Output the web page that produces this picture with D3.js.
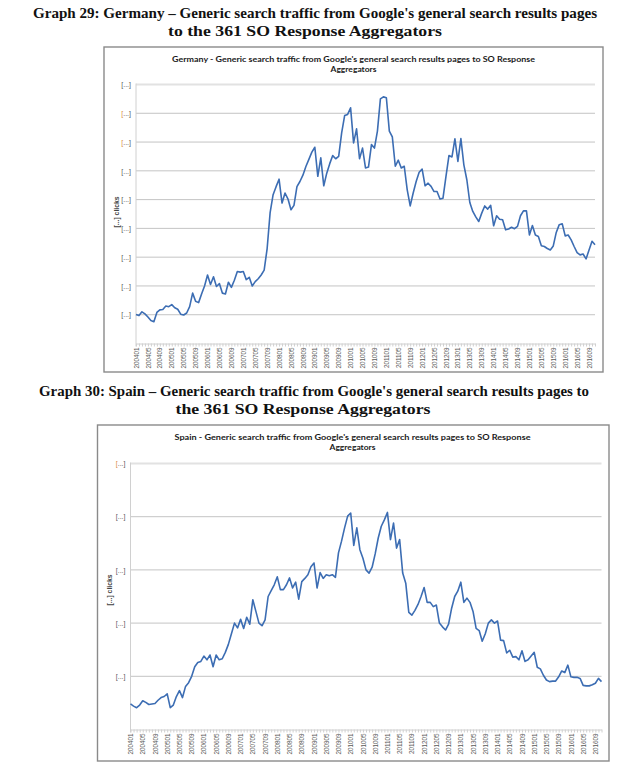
<!DOCTYPE html>
<html><head><meta charset="utf-8">
<script src="https://cdn.jsdelivr.net/npm/d3@7"></script>
<style>body{margin:0;background:#fff;} svg{display:block;}</style>
</head><body>
<svg id="c" width="630" height="767"></svg>
<script>
// ---------- DATA ----------
const categories = [
"200401","200402","200403","200404","200405","200406","200407","200408","200409","200410","200411","200412",
"200501","200502","200503","200504","200505","200506","200507","200508","200509","200510","200511","200512",
"200601","200602","200603","200604","200605","200606","200607","200608","200609","200610","200611","200612",
"200701","200702","200703","200704","200705","200706","200707","200708","200709","200710","200711","200712",
"200801","200802","200803","200804","200805","200806","200807","200808","200809","200810","200811","200812",
"200901","200902","200903","200904","200905","200906","200907","200908","200909","200910","200911","200912",
"201001","201002","201003","201004","201005","201006","201007","201008","201009","201010","201011","201012",
"201101","201102","201103","201104","201105","201106","201107","201108","201109","201110","201111","201112",
"201201","201202","201203","201204","201205","201206","201207","201208","201209","201210","201211","201212",
"201301","201302","201303","201304","201305","201306","201307","201308","201309","201310","201311","201312",
"201401","201402","201403","201404","201405","201406","201407","201408","201409","201410","201411","201412",
"201501","201502","201503","201504","201505","201506","201507","201508","201509","201510","201511","201512",
"201601","201602","201603","201604","201605","201606","201607","201608","201609","201610","201611"];

const xTickLabels = [
"200401","200405","200409","200501","200505","200509","200601","200605","200609",
"200701","200705","200709","200801","200805","200809","200901","200905","200909",
"201001","201005","201009","201101","201105","201109","201201","201205","201209",
"201301","201305","201309","201401","201405","201409","201501","201505","201509",
"201601","201605","201609"];

// clicks (redacted scale; units = gridline steps)
const germanyClicks = [
1.01,0.97,1.10,1.03,0.92,0.80,0.76,1.08,1.17,1.18,
1.30,1.28,1.35,1.24,1.19,1.02,0.99,1.06,1.28,1.75,
1.47,1.42,1.72,2.00,2.38,2.05,2.32,1.98,2.08,1.75,
1.72,2.13,1.95,2.20,2.50,2.48,2.50,2.22,2.30,2.00,
2.15,2.25,2.38,2.55,3.30,4.55,5.17,5.45,5.71,4.88,
5.23,5.02,4.65,4.80,5.45,5.63,5.85,6.15,6.40,6.65,
6.82,5.81,6.45,5.48,5.92,6.25,6.53,6.42,6.50,7.32,
7.92,7.96,8.19,6.97,7.46,6.42,6.79,6.10,6.13,6.91,
6.79,7.38,8.50,8.57,8.54,7.38,7.18,6.16,6.37,6.10,
6.16,5.34,4.78,5.23,5.63,5.95,6.06,5.48,5.57,5.46,
5.28,5.28,5.02,5.05,5.81,6.53,6.48,7.11,6.33,7.12,
6.21,5.69,4.90,4.59,4.40,4.24,4.53,4.78,4.67,4.80,
4.09,4.44,4.32,4.30,3.95,3.98,4.04,3.99,4.07,4.44,
4.61,4.61,3.77,4.10,3.77,3.72,3.40,3.37,3.30,3.25,
3.39,3.86,4.13,4.16,3.74,3.77,3.60,3.37,3.16,3.08,
3.11,2.94,3.25,3.55,3.43];

const spainClicks = [
0.48,0.44,0.41,0.46,0.54,0.51,0.47,0.48,0.49,0.55,
0.60,0.62,0.67,0.41,0.46,0.62,0.73,0.60,0.81,0.88,
1.00,1.18,1.26,1.28,1.38,1.31,1.40,1.18,1.40,1.31,
1.33,1.45,1.60,1.80,2.00,1.91,2.07,1.90,2.11,1.98,
2.44,2.22,2.00,1.95,2.06,2.50,2.61,2.72,2.87,2.63,
2.63,2.72,2.85,2.66,2.77,2.45,2.78,2.84,2.91,3.06,
3.13,2.66,2.95,2.84,2.91,2.89,2.91,2.86,3.32,3.54,
3.79,4.01,4.07,3.46,3.79,3.38,3.22,3.00,2.94,3.05,
3.30,3.60,3.82,3.94,4.08,3.57,3.88,3.41,3.57,2.94,
2.75,2.20,2.15,2.24,2.35,2.50,2.67,2.39,2.39,2.31,
2.34,2.00,1.93,1.87,1.98,2.28,2.50,2.60,2.77,2.39,
2.47,2.39,2.22,1.90,1.86,1.66,1.80,2.00,2.06,2.00,
2.04,1.68,1.67,1.44,1.49,1.36,1.37,1.31,1.48,1.28,
1.31,1.38,1.45,1.17,1.14,1.02,0.93,0.90,0.91,0.91,
0.99,1.10,1.07,1.21,0.99,0.98,0.98,0.96,0.83,0.82,
0.82,0.84,0.87,0.96,0.90];

const germanyYTicks = [1,2,3,4,5,6,7,8,9];
const spainYTicks = [1,2,3,4,5];
const yTickText = "[...]";
const yAxisTitle = "[...] clicks";

const graph29Title = ["Graph 29: Germany \u2013 Generic search traffic from Google's general search results pages",
                      "to the 361 SO Response Aggregators"];
const graph30Title = ["Graph 30: Spain \u2013 Generic search traffic from Google's general search results pages to",
                      "the 361 SO Response Aggregators"];
const germanyChartTitle = ["Germany - Generic search traffic from Google's general search results pages to SO Response",
                           "Aggregators"];
const spainChartTitle = ["Spain - Generic search traffic from Google's general search results pages to SO Response",
                         "Aggregators"];

// ---------- DRAW ----------
const svg = d3.select("#c");
svg.append("rect").attr("width",630).attr("height",767).attr("fill","#fff");

function heading(lines, specs) {
  lines.forEach((t, i) => {
    const s = specs[i];
    svg.append("text").text(t)
      .attr("x", s.cx).attr("y", s.y)
      .attr("text-anchor", "middle")
      .attr("textLength", s.w).attr("lengthAdjust", "spacingAndGlyphs")
      .attr("font-family", "'Liberation Serif','Times New Roman',serif")
      .attr("font-weight", "bold").attr("font-size", 15.5).attr("fill", "#111");
  });
}

function drawChart(cfg) {
  const g = svg.append("g");
  const P = cfg.plot;
  g.append("rect")
    .attr("x", cfg.box[0]).attr("y", cfg.box[1])
    .attr("width", cfg.box[2]-cfg.box[0]).attr("height", cfg.box[3]-cfg.box[1])
    .attr("fill", "#fff").attr("stroke", "#8a8a8a").attr("stroke-width", 1.4);

  // chart title
  cfg.title.forEach((t, i) => {
    g.append("text").text(t)
      .attr("x", cfg.titleCx).attr("y", cfg.titleY[i])
      .attr("text-anchor", "middle")
      .attr("textLength", cfg.titleW[i]).attr("lengthAdjust", "spacingAndGlyphs")
      .attr("font-family", "Lato, 'Liberation Sans', sans-serif")
      .attr("font-weight", "bold").attr("font-size", 8).attr("fill", "#1a1a1a");
  });

  const x = d3.scalePoint().domain(categories).range([P.left, P.right]);
  const y = d3.scaleLinear().domain([0, cfg.max]).range([P.bottom, P.top]);

  // gridlines
  g.append("g").selectAll("line").data(cfg.ticks).join("line")
    .attr("x1", P.left).attr("x2", P.right)
    .attr("y1", d => y(d)).attr("y2", d => y(d))
    .attr("stroke", d => d === cfg.max ? "#e2e2e2" : "#c4c4c4")
    .attr("stroke-width", d => d === cfg.max ? 2 : 1);

  // y axis
  const ya = g.append("g").attr("transform", `translate(${P.left},0)`)
    .call(d3.axisLeft(y).tickValues(cfg.ticks).tickSize(0).tickSizeOuter(0).tickPadding(5)
      .tickFormat(() => yTickText));
  ya.select(".domain").remove();
  ya.selectAll("text")
    .attr("font-family", "'Liberation Sans', Arial, sans-serif")
    .attr("font-size", 7).attr("fill", "#595959")
    .each(function(d) {
      if (cfg.orange.includes(d)) {
        const t = d3.select(this); t.text(null);
        t.append("tspan").text("[").attr("fill", "#d98a3a");
        t.append("tspan").text("...]");
      }
    });
  g.append("line").attr("x1", P.left).attr("x2", P.left)
    .attr("y1", P.top - 1).attr("y2", P.bottom + 3)
    .attr("stroke", "#d0d0d0").attr("stroke-width", 1);

  // x axis
  const xa = g.append("g").attr("transform", `translate(0,${P.bottom})`)
    .call(d3.axisBottom(x).tickValues(categories).tickSize(3).tickSizeOuter(0)
      .tickFormat(d => xTickLabels.includes(d) ? d : ""));
  xa.select(".domain").attr("stroke", "#d0d0d0");
  xa.selectAll(".tick line").attr("stroke", "#d0d0d0");
  xa.selectAll("text")
    .attr("transform", "rotate(-90)")
    .attr("x", -4).attr("y", 0).attr("dy", "0.33em")
    .attr("text-anchor", "end")
    .attr("font-family", "'Liberation Sans', Arial, sans-serif")
    .attr("font-size", 6.3).attr("fill", "#595959");

  // y axis title
  g.append("text").text(yAxisTitle)
    .attr("transform", `translate(${cfg.yTitleX},${cfg.yTitleY}) rotate(-90)`)
    .attr("text-anchor", "middle").attr("dy", "0.33em")
    .attr("font-family", "'Liberation Sans', Arial, sans-serif")
    .attr("font-weight", "bold").attr("font-size", 6.8).attr("fill", "#404040");

  // series line
  g.append("path").datum(cfg.values)
    .attr("fill", "none").attr("stroke", "#3c6db3").attr("stroke-width", 1.6)
    .attr("stroke-linejoin", "round")
    .attr("d", d3.line().x((d, i) => x(categories[i])).y(d => y(d)));
}

heading(graph29Title, [{cx: 315, y: 18, w: 564}, {cx: 305, y: 36, w: 274}]);
drawChart({
  box: [104, 47, 603, 372],
  plot: {left: 136, right: 595, top: 84.5, bottom: 343.5},
  max: 9, ticks: germanyYTicks, orange: [7, 8],
  values: germanyClicks,
  title: germanyChartTitle, titleCx: 353.5, titleY: [61.5, 72], titleW: [363, 46],
  yTitleX: 116.5, yTitleY: 212
});

heading(graph30Title, [{cx: 314, y: 396, w: 550}, {cx: 303, y: 414, w: 255}]);
drawChart({
  box: [97.5, 425, 609, 761],
  plot: {left: 130.5, right: 601.5, top: 463.5, bottom: 729.5},
  max: 5, ticks: spainYTicks, orange: [5],
  values: spainClicks,
  title: spainChartTitle, titleCx: 352.5, titleY: [439.5, 450], titleW: [356, 46],
  yTitleX: 110, yTitleY: 590
});
</script>
</body></html>
